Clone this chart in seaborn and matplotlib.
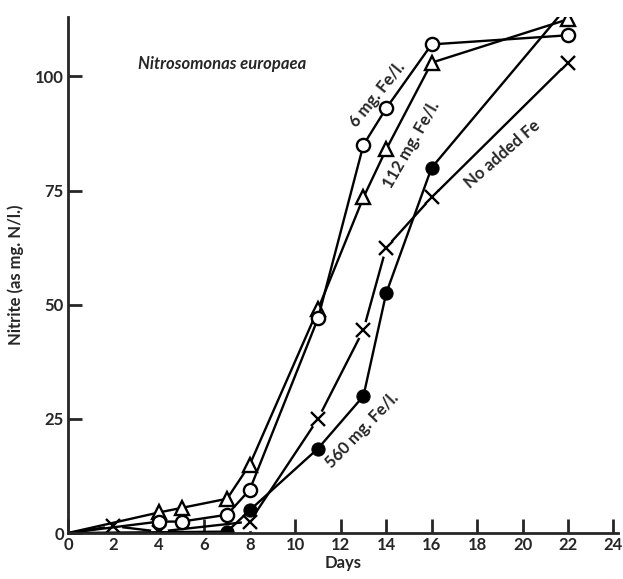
import pandas as pd
import seaborn as sns
import matplotlib.pyplot as plt

sns.set_style("ticks")
plt.rcParams['font.family'] = ['Lato', 'DejaVu Sans']
plt.rcParams['font.weight'] = 'bold'
plt.rcParams['axes.labelweight'] = 'bold'

# (days, nitrite as mg N/l.)
days_6 = [0, 4, 5, 7, 8, 11, 13, 14, 16, 22]
nitrite_6 = [0, 2.5, 2.5, 4, 9.5, 47, 85, 93, 107, 109]

days_112 = [0, 4, 5, 7, 8, 11, 13, 14, 16, 22]
nitrite_112 = [0, 4.5, 5.5, 7.5, 15, 49, 73.5, 84, 103, 112.5]

days_560 = [0, 7, 8, 11, 13, 14, 16, 22]
nitrite_560 = [0, 0.3, 5, 18.5, 30, 52.5, 80, 115.5]

days_none = [0, 2, 4, 8, 11, 13, 14, 16, 22]
nitrite_none = [0, 1.5, 0.3, 2.5, 25, 44.5, 62.5, 73.5, 103]

x_ticks = list(range(0, 25, 2))
y_ticks = [0, 25, 50, 75, 100]

fig = plt.figure(figsize=(6.23, 5.79), dpi=100)
ax = fig.add_axes([68 / 623, 46 / 579, 550 / 623, 516 / 579])

lw = 1.7
ms = 9.5
fs = 12

# No added Fe: line broken around the crosses
sns.lineplot(x=days_none, y=nitrite_none, ax=ax, color='black', lw=lw,
             sort=False, estimator=None, zorder=2)
ax.plot(days_none[1:], nitrite_none[1:], 'o', ms=ms + 3, mfc='white', mec='none', zorder=3)
ax.plot(days_none[1:], nitrite_none[1:], 'x', ms=ms, mew=lw, color='black', zorder=4)

sns.lineplot(x=days_560, y=nitrite_560, ax=ax, color='black', lw=lw, sort=False,
             estimator=None, marker='o', markersize=ms, markerfacecolor='black',
             markeredgecolor='black', markevery=list(range(1, len(days_560))), zorder=5)
sns.lineplot(x=days_112, y=nitrite_112, ax=ax, color='black', lw=lw, sort=False,
             estimator=None, marker='^', markersize=ms + 1, markerfacecolor='white',
             markeredgecolor='black', markeredgewidth=lw,
             markevery=list(range(1, len(days_112))), zorder=6)
sns.lineplot(x=days_6, y=nitrite_6, ax=ax, color='black', lw=lw, sort=False,
             estimator=None, marker='o', markersize=ms, markerfacecolor='white',
             markeredgecolor='black', markeredgewidth=lw,
             markevery=list(range(1, len(days_6))), zorder=7)

ax.set_xlim(0, 24.2)
ax.set_ylim(0, 113)
ax.set_xticks(x_ticks)
ax.set_yticks(y_ticks)
ax.set_xticklabels([str(t) for t in x_ticks], weight='bold')
ax.set_yticklabels([str(t) for t in y_ticks], weight='bold')
ax.tick_params(direction='in', length=10, width=2, labelsize=fs, pad=3)
sns.despine(ax=ax)
for s in ['left', 'bottom']:
    ax.spines[s].set_linewidth(2)
    ax.spines[s].set_zorder(10)

ax.set_xlabel('Days', fontsize=fs, labelpad=1)
ax.set_ylabel('Nitrite (as mg. N/l.)', fontsize=fs, labelpad=8)

ax.text(6.8, 102.6, 'Nitrosomonas europaea', fontsize=fs, style='italic',
        weight='bold', ha='center', va='center')
ax.text(13.6, 96, '6 mg. Fe/l.', fontsize=fs, rotation=51, ha='center', va='center',
        rotation_mode='anchor')
ax.text(15.1, 85, '112 mg. Fe/l.', fontsize=fs, rotation=60, ha='center', va='center',
        rotation_mode='anchor')
ax.text(19.1, 83, 'No added Fe', fontsize=fs, rotation=41, ha='center', va='center',
        rotation_mode='anchor')
ax.text(12.95, 22.4, '560 mg. Fe/l.', fontsize=fs, rotation=46, ha='center', va='center',
        rotation_mode='anchor')

fig.savefig('out.png', dpi=100)
